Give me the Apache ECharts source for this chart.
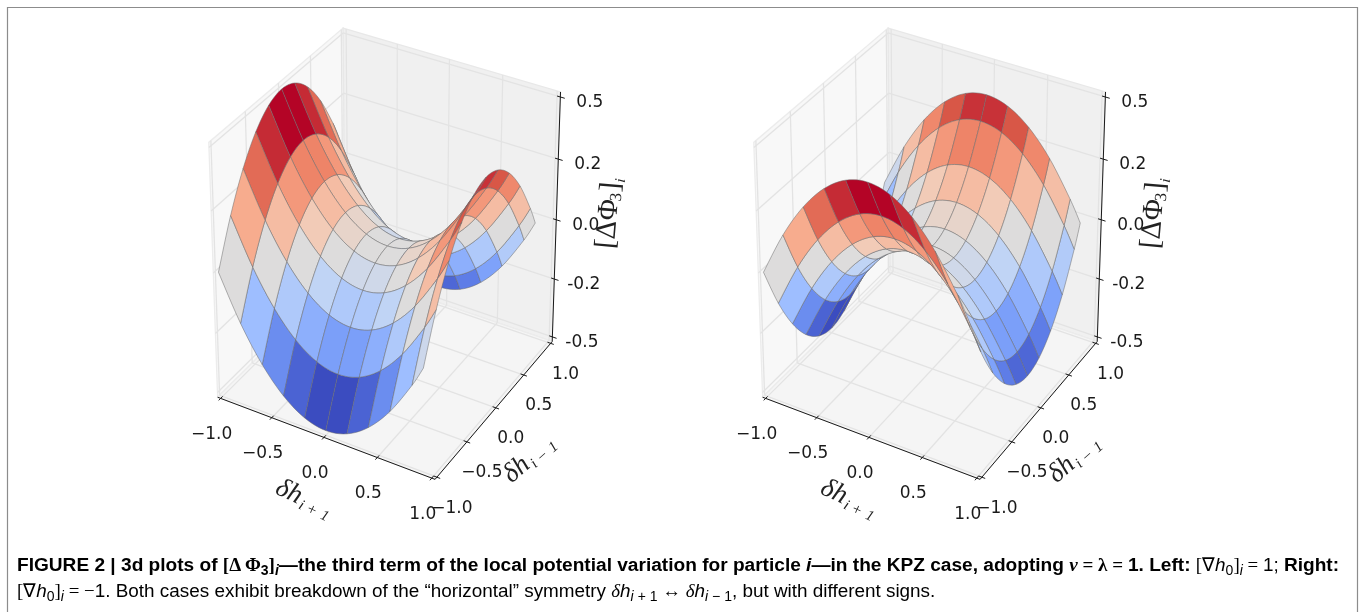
<!DOCTYPE html>
<html><head><meta charset="utf-8">
<style>html,body{margin:0;padding:0;background:#fff}#c{width:1360px;height:612px}</style>
<script src="https://cdn.jsdelivr.net/npm/echarts@6/dist/echarts.min.js"></script>
</head><body><div id="c"></div>
<script>
// mesh nodes along both horizontal axes
const xNodes = [-1, -0.8, -0.6, -0.4, -0.2, 0, 0.2, 0.4, 0.6, 0.8, 0.9];
const yNodes = [-1, -0.8, -0.6, -0.4, -0.2, 0, 0.2, 0.4, 0.6, 0.8, 0.9];
// surface heights, one row per xNode, one column per yNode
const zLeft = [
 [0, .18, .32, .42, .48, .5, .48, .42, .32, .18, .095],
 [-.18, 0, .14, .24, .30, .32, .30, .24, .14, 0, -.085],
 [-.32, -.14, 0, .10, .16, .18, .16, .10, 0, -.14, -.225],
 [-.42, -.24, -.10, 0, .06, .08, .06, 0, -.10, -.24, -.325],
 [-.48, -.30, -.16, -.06, 0, .02, 0, -.06, -.16, -.30, -.385],
 [-.5, -.32, -.18, -.08, -.02, 0, -.02, -.08, -.18, -.32, -.405],
 [-.48, -.30, -.16, -.06, 0, .02, 0, -.06, -.16, -.30, -.385],
 [-.42, -.24, -.10, 0, .06, .08, .06, 0, -.10, -.24, -.325],
 [-.32, -.14, 0, .10, .16, .18, .16, .10, 0, -.14, -.225],
 [-.18, 0, .14, .24, .30, .32, .30, .24, .14, 0, -.085],
 [-.095, .085, .225, .325, .385, .405, .385, .325, .225, .085, 0]
];
const zRight = [
 [0, -.18, -.32, -.42, -.48, -.5, -.48, -.42, -.32, -.18, -.095],
 [.18, 0, -.14, -.24, -.30, -.32, -.30, -.24, -.14, 0, .085],
 [.32, .14, 0, -.10, -.16, -.18, -.16, -.10, 0, .14, .225],
 [.42, .24, .10, 0, -.06, -.08, -.06, 0, .10, .24, .325],
 [.48, .30, .16, .06, 0, -.02, 0, .06, .16, .30, .385],
 [.5, .32, .18, .08, .02, 0, .02, .08, .18, .32, .405],
 [.48, .30, .16, .06, 0, -.02, 0, .06, .16, .30, .385],
 [.42, .24, .10, 0, -.06, -.08, -.06, 0, .10, .24, .325],
 [.32, .14, 0, -.10, -.16, -.18, -.16, -.10, 0, .14, .225],
 [.18, 0, -.14, -.24, -.30, -.32, -.30, -.24, -.14, 0, .085],
 [.095, -.085, -.225, -.325, -.385, -.405, -.385, -.325, -.225, -.085, 0]
];
const xyTicks = [-1, -0.5, 0, 0.5, 1];
const xyTickLabels = ['\u22121.0', '\u22120.5', '0.0', '0.5', '1.0'];
const zTicks = [-0.5, -0.25, 0, 0.25, 0.5];
const zTickLabels = ['-0.5', '-0.2', '0.0', '0.2', '0.5'];
const coolwarm = ['#3b4cc0','#5b7ae5','#7b9ff9','#9ebeff','#c0d4f5','#dddcdc','#f2cbb7','#f7ac8e','#ee8468','#d65244','#b40426'];

// camera: elevation 30, azimuth -60, distance 10, box normalised to the unit cube
const XY = 1.03, Z = 0.52;
function project(p) {
  const a = p[0] / (2 * XY), b = p[1] / (2 * XY), c = p[2] / (2 * Z);
  const f = 10 / (10 - (0.433 * a - 0.75 * b + 0.5 * c));
  return [(0.866 * a + 0.5 * b) * f, (-0.25 * a + 0.433 * b + 0.866 * c) * f, 0.433 * a - 0.75 * b + 0.5 * c];
}
const U = [-0.8, 0.8], V = [-0.9, 0.8];
const panels = [{ left: 186.7, z: zLeft }, { left: 731.7, z: zRight }];

function frameItems() {
  const it = [];
  const poly = (pts, fill, stroke) => it.push({ k: 'poly', pts, fill, stroke });
  const line = (a, b, stroke, w) => it.push({ k: 'line', a, b, stroke, w });
  poly([[-XY,-XY,-Z],[-XY,XY,-Z],[-XY,XY,Z],[-XY,-XY,Z]], '#f8f8f8', '#ececec');
  poly([[-XY,XY,-Z],[XY,XY,-Z],[XY,XY,Z],[-XY,XY,Z]], '#f0f0f0', '#e8e8e8');
  poly([[-XY,-XY,-Z],[XY,-XY,-Z],[XY,XY,-Z],[-XY,XY,-Z]], '#f5f5f5', '#ececec');
  const g = '#e3e3e3';
  xyTicks.forEach(t => {
    line([t,-XY,-Z],[t,XY,-Z],g,1.3); line([t,XY,-Z],[t,XY,Z],g,1.3);
    line([-XY,t,-Z],[XY,t,-Z],g,1.3); line([-XY,t,-Z],[-XY,t,Z],g,1.3);
  });
  zTicks.forEach(t => { line([-XY,-XY,t],[-XY,XY,t],g,1.3); line([-XY,XY,t],[XY,XY,t],g,1.3); });
  return it;
}
function axisItems() {
  const it = [];
  const ink = '#1a1a1a';
  const line = (a, b) => it.push({ k: 'line', a, b, stroke: ink, w: 1 });
  const label = (p, dx, dy, text) => it.push({ k: 'text', p, dx, dy, text });
  line([-XY,-XY,-Z],[XY,-XY,-Z]); line([XY,-XY,-Z],[XY,XY,-Z]); line([XY,XY,-Z],[XY,XY,Z]);
  xyTicks.forEach((t, i) => {
    line([t,-XY-0.03,-Z],[t,-XY+0.03,-Z]); label([t,-XY,-Z],-9,36,xyTickLabels[i]);
    line([XY-0.03,t,-Z],[XY+0.03,t,-Z]); label([XY,t,-Z],15,31,xyTickLabels[i]);
  });
  zTicks.forEach((t, i) => {
    line([XY-0.03,XY,t],[XY+0.04,XY,t]); label([XY,XY,t],29.5,5.5,zTickLabels[i]);
  });
  const serif = '"Liberation Serif"';
  it.push({ k:'title', p:[0,-XY,-Z], dx:-17, dy:63, rot:-25, parts:[
    ['\u03b4h',-33,0,`italic 27px ${serif}`],['i',-5,7,`italic 15px ${serif}`],['+',4,7,`16px ${serif}`],['1',19,7,`italic 15px ${serif}`]] });
  it.push({ k:'title', p:[XY,0,-Z], dx:36, dy:49, rot:41, parts:[
    ['\u03b4h',-33,0,`italic 27px ${serif}`],['i',-5,7,`italic 15px ${serif}`],['\u2212',4,7,`16px ${serif}`],['1',19,7,`italic 15px ${serif}`]] });
  it.push({ k:'title', p:[XY,XY,0], dx:53, dy:-8, rot:85, parts:[
    ['[\u0394\u03a6',-37,0,`29px ${serif}`],['3',11,6,`17px ${serif}`],[']',20,0,`29px ${serif}`],['i',30,9,`italic 15px ${serif}`]] });
  return it;
}
function renderList(items) {
  return function (params, api) {
    const o = items[params.dataIndex];
    const c = p => { const q = project(p); return api.coord([q[0], q[1]]); };
    if (o.k === 'poly') return { type:'polygon', silent:true, shape:{ points:o.pts.map(c) }, style:{ fill:o.fill, stroke:o.stroke, lineWidth:1.3 } };
    if (o.k === 'line') { const a=c(o.a), b=c(o.b); return { type:'line', silent:true, shape:{ x1:a[0],y1:a[1],x2:b[0],y2:b[1] }, style:{ stroke:o.stroke, lineWidth:o.w } }; }
    const at = c(o.p);
    if (o.k === 'text') return { type:'text', silent:true, x:at[0]+o.dx, y:at[1]+o.dy, style:{ text:o.text, font:'17px "DejaVu Sans"', fill:'#1a1a1a', align:'center', verticalAlign:'middle' } };
    return { type:'group', silent:true, x:at[0]+o.dx, y:at[1]+o.dy, rotation:o.rot*Math.PI/180,
      children:o.parts.map(q => ({ type:'text', x:q[1], y:q[2], style:{ text:q[0], font:q[3], fill:'#222', align:'left', verticalAlign:'middle' } })) };
  };
}
// one curved mesh edge through the typed nodes, drawn on screen from p1 towards p2
function edge(p0, p1, p2, p3, out) {
  const c1 = [p1[0] + (p2[0] - p0[0]) / 6, p1[1] + (p2[1] - p0[1]) / 6];
  const c2 = [p2[0] - (p3[0] - p1[0]) / 6, p2[1] - (p3[1] - p1[1]) / 6];
  for (let s = 0; s < 6; s++) {
    const t = s / 6, m = 1 - t;
    out.push([
      m*m*m*p1[0] + 3*m*m*t*c1[0] + 3*m*t*t*c2[0] + t*t*t*p2[0],
      m*m*m*p1[1] + 3*m*m*t*c1[1] + 3*m*t*t*c2[1] + t*t*t*p2[1]
    ]);
  }
}
const series = [], grids = [], xAxes = [], yAxes = [], surfaceIdx = [];
panels.forEach((pn, n) => {
  grids.push({ left: pn.left, top: 13.2, width: 401.6, height: 494.7 });
  xAxes.push({ type:'value', gridIndex:n, min:U[0], max:U[1], show:false });
  yAxes.push({ type:'value', gridIndex:n, min:V[0], max:V[1], show:false });
  const frame = frameItems(), axes = axisItems();
  series.push({ type:'custom', xAxisIndex:n, yAxisIndex:n, z:1, silent:true, animation:false,
    data: frame.map((_, k) => [0, 0, k]), encode:{x:0,y:1}, renderItem: renderList(frame) });
  const last = xNodes.length - 1;
  const cells = [];
  for (let i = 0; i < last; i++) for (let j = 0; j < last; j++) {
    const pts = [[i,j],[i+1,j],[i+1,j+1],[i,j+1]].map(q => [xNodes[q[0]], yNodes[q[1]], pn.z[q[0]][q[1]]]);
    const mean = pts.reduce((s,p) => s + p[2], 0) / 4;
    const depth = pts.reduce((s,p) => s + project(p)[2], 0) / 4;
    cells.push({ i, j, mean, depth });
  }
  cells.sort((a,b) => a.depth - b.depth);
  surfaceIdx.push(series.length);
  series.push({ type:'custom', xAxisIndex:n, yAxisIndex:n, z:2, silent:true, animation:false,
    data: cells.map(c => [c.mean]), encode:{x:0},
    renderItem(params, api) {
      const { i, j } = cells[params.dataIndex];
      const node = (a, b) => {
        const ca = Math.max(0, Math.min(last, a)), cb = Math.max(0, Math.min(last, b));
        const q = project([xNodes[ca], yNodes[cb], pn.z[ca][cb]]);
        return api.coord([q[0], q[1]]);
      };
      const pts = [];
      edge(node(i-1,j), node(i,j), node(i+1,j), node(i+2,j), pts);
      edge(node(i+1,j-1), node(i+1,j), node(i+1,j+1), node(i+1,j+2), pts);
      edge(node(i+2,j+1), node(i+1,j+1), node(i,j+1), node(i-1,j+1), pts);
      edge(node(i,j+2), node(i,j+1), node(i,j), node(i,j-1), pts);
      return { type:'polygon', silent:true, z2:params.dataIndex, shape:{ points:pts },
        style:{ fill: api.visual('color'), stroke:'rgba(105,105,105,0.72)', lineWidth:0.7 } };
    } });
  series.push({ type:'custom', xAxisIndex:n, yAxisIndex:n, z:3, silent:true, animation:false,
    data: axes.map((_, k) => [0, 0, k]), encode:{x:0,y:1}, renderItem: renderList(axes) });
});
const sans = '"Liberation Sans"', ser = '"Liberation Serif"';
const B = 19.1, R = 18.9, S = 14;
const rich = {
  b:{ fontFamily:sans, fontWeight:'bold', fontSize:B, color:'#1c1c1c', lineHeight:26 },
  bi:{ fontFamily:sans, fontWeight:'bold', fontStyle:'italic', fontSize:B, color:'#1c1c1c', lineHeight:26 },
  bm:{ fontFamily:ser, fontWeight:'bold', fontSize:B, color:'#1c1c1c', lineHeight:26 },
  bmi:{ fontFamily:ser, fontWeight:'bold', fontStyle:'italic', fontSize:B, color:'#1c1c1c', lineHeight:26 },
  bs:{ fontFamily:sans, fontWeight:'bold', fontSize:S, color:'#1c1c1c', padding:[10,0,0,0], lineHeight:26 },
  bsi:{ fontFamily:sans, fontWeight:'bold', fontStyle:'italic', fontSize:S, color:'#1c1c1c', padding:[10,0,0,0], lineHeight:26 },
  r:{ fontFamily:sans, fontSize:R, color:'#333', lineHeight:26 },
  ri:{ fontFamily:sans, fontStyle:'italic', fontSize:R, color:'#333', lineHeight:26 },
  m:{ fontFamily:ser, fontSize:R, color:'#333', lineHeight:26 },
  mi:{ fontFamily:ser, fontStyle:'italic', fontSize:R, color:'#333', lineHeight:26 },
  s:{ fontFamily:sans, fontSize:S, color:'#333', padding:[10,0,0,0], lineHeight:26 },
  si:{ fontFamily:sans, fontStyle:'italic', fontSize:S, color:'#333', padding:[10,0,0,0], lineHeight:26 }
};
const line1 = '{b|FIGURE 2 | 3d plots of }{bm|[\u0394\u2009\u03a6}{bs|3}{bm|]}{bsi|i}{b|\u2014the third term of the local potential variation for particle }{bi|i}{b|\u2014in the KPZ case, adopting }{bmi|\u03bd}{bm| = \u03bb = }{b|1. Left: }{m|[\u2207}{ri|h}{s|0}{m|]}{si|i}{m| = }{r|1; }{b|Right:}';
const line2 = '{m|[\u2207}{ri|h}{s|0}{m|]}{si|i}{m| = \u2212}{r|1. Both cases exhibit breakdown of the \u201chorizontal\u201d symmetry }{mi|\u03b4}{ri|h}{si|i + }{s|1}{m| \u2194 }{mi|\u03b4}{ri|h}{si|i \u2212 }{s|1}{r|, but with different signs.}';
const graphicEls = [
  { type:'polyline', silent:true, shape:{ points:[[7.5,612],[7.5,7.5],[1357.5,7.5],[1357.5,612]] }, style:{ fill:'none', stroke:'#8c8c8c', lineWidth:1.2 } },
  { type:'text', silent:true, x:17, y:566, style:{ text:line1, rich, verticalAlign:'middle', align:'left' } },
  { type:'text', silent:true, x:17, y:592, style:{ text:line2, rich, verticalAlign:'middle', align:'left' } }
];
const chart = echarts.init(document.getElementById('c'), null, { renderer:'canvas' });
chart.setOption({
  animation:false, backgroundColor:'#fff', tooltip:{ show:false },
  grid:grids, xAxis:xAxes, yAxis:yAxes,
  visualMap:{ type:'continuous', show:false, min:-0.4, max:0.4, dimension:0, seriesIndex:surfaceIdx, inRange:{ color:coolwarm } },
  series, graphic:{ elements:graphicEls }
});
</script></body></html>
